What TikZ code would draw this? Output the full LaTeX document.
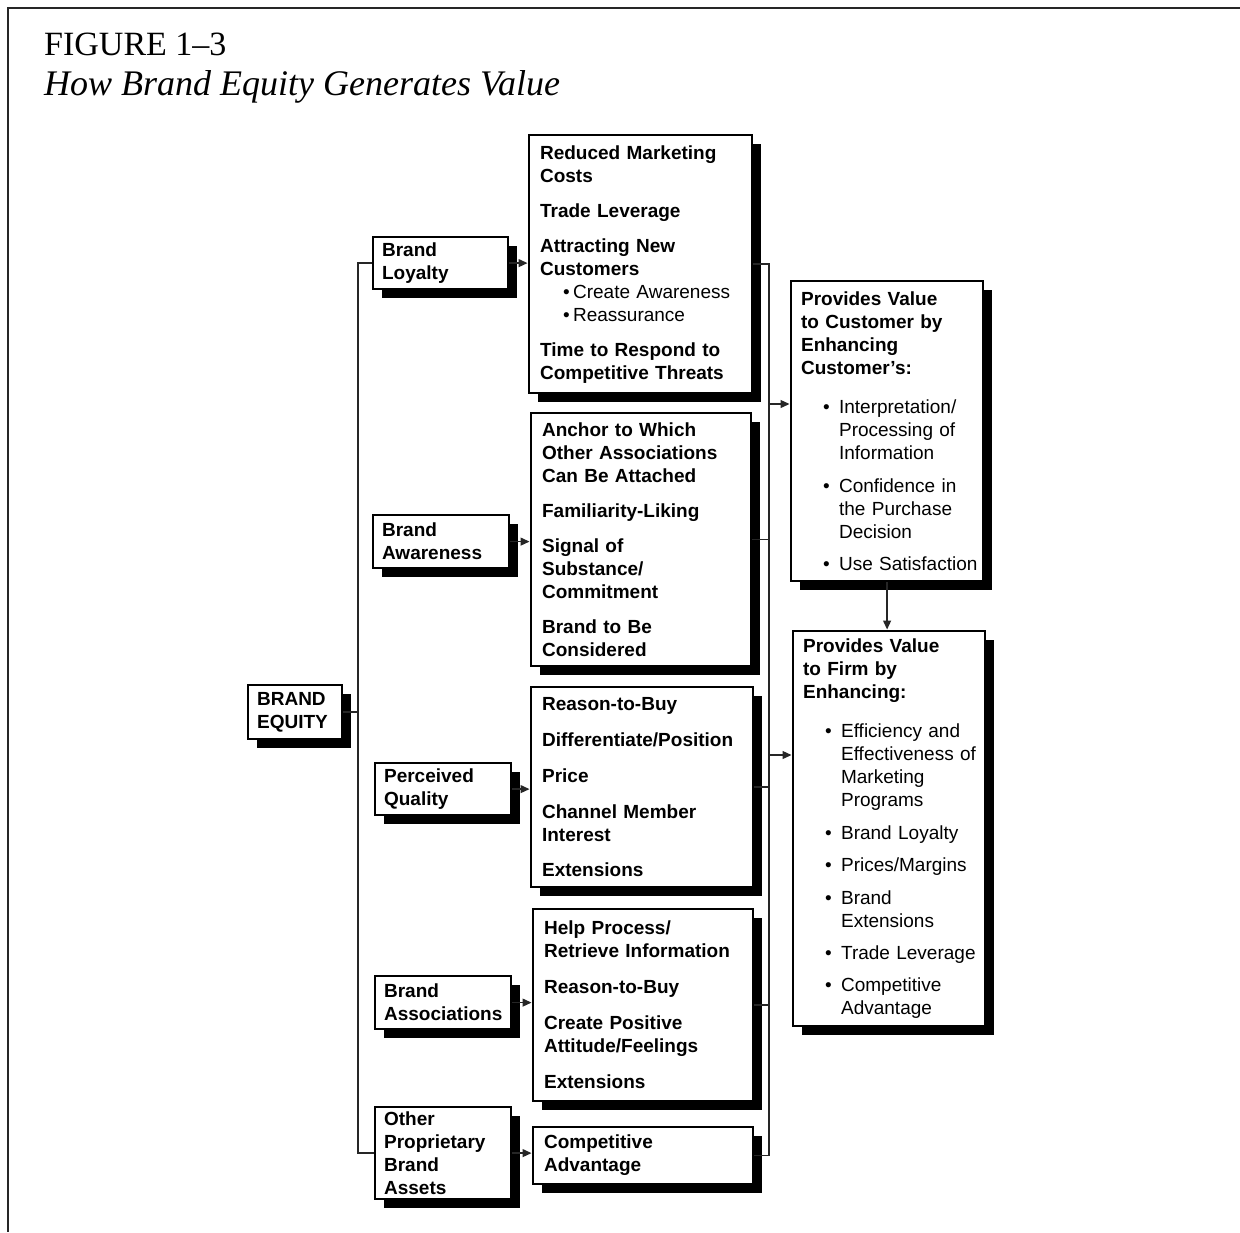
\documentclass[tikz,border=0pt]{standalone}
\usepackage{fontspec}
\setmainfont{Liberation Sans}
\newfontfamily\titlefont{Liberation Serif}
\usetikzlibrary{shadows,arrows.meta}
\newcommand\BulItem[3]{\hspace*{#1}\makebox[#2][l]{\mdseries\textbullet}\mbox{\mdseries #3}}
\newcommand\BulCont[2]{\hspace*{#1}\mbox{\mdseries #2}}
\newcommand\NoHyph{\hyphenpenalty=10000\relax\exhyphenpenalty=10000\relax}
\begin{document}
\begin{tikzpicture}[x=1pt,y=-1pt,
  bx/.style={draw=black, line width=2.2pt, fill=white, anchor=north west, align=left, inner ysep=0pt,
    font=\fontsize{19}{23}\selectfont\bfseries\NoHyph,
    drop shadow={shadow xshift=9pt, shadow yshift=-9pt, fill=black, opacity=1}},
  sbx/.style={bx, inner xsep=9pt},
  lbx/.style={bx, inner xsep=11pt},
  ubx/.style={bx, inner xsep=10pt},
  conn/.style={line width=1.3pt, draw=black!85},
  arr/.style={conn, -{Triangle[length=9pt,width=8pt]}, shorten >=0.5pt}
]
\useasboundingbox (0,0) rectangle (1240,1232);
% outer frame (cropped)
\draw[line width=2.5pt, black!85] (1240,8) -- (8,8) -- (8,1232);

% title
\node[anchor=base west, inner sep=0pt, font=\titlefont\fontsize{34}{40}\selectfont] (fig) at (44,55) {FIGURE 1\textendash 3};
\node[anchor=base west, inner sep=0pt, font=\titlefont\itshape\fontsize{36}{40}\selectfont] (sub) at (44,95) {How Brand Equity Generates Value};

% left column
\node[sbx, text width=76pt, minimum height=54pt] (eq) at (247,684) {BRAND\\EQUITY};
\node[sbx, text width=117pt, minimum height=52pt] (loy) at (372,236) {Brand\\Loyalty};
\node[sbx, text width=118pt, minimum height=53pt] (awa) at (372,514) {Brand\\Awareness};
\node[sbx, text width=118pt, minimum height=52pt] (qua) at (374,762) {Perceived\\Quality};
\node[sbx, text width=118pt, minimum height=53pt] (ass) at (374,975) {Brand\\Associations};
\node[sbx, text width=118pt, minimum height=92pt] (oth) at (374,1106) {Other\\Proprietary\\Brand\\Assets};

% middle column
\node[lbx, text width=201pt, minimum height=258pt] (b1) at (528,134) {Reduced Marketing\\Costs\\[12pt]Trade Leverage\\[12pt]Attracting New\\Customers\\\BulItem{23pt}{10pt}{Create Awareness}\\\BulItem{23pt}{10pt}{Reassurance}\\[12pt]Time to Respond to\\Competitive Threats};
\node[lbx, text width=198pt, minimum height=253pt] (b2) at (530,412) {Anchor to Which\\Other Associations\\Can Be Attached\\[12pt]Familiarity-Liking\\[12pt]Signal of\\Substance/\\Commitment\\[12pt]Brand to Be\\Considered};
\node[lbx, text width=200pt, minimum height=200pt] (b3) at (530,686) {Reason-to-Buy\\[13pt]Differentiate/Position\\[13pt]Price\\[13pt]Channel Member\\Interest\\[12pt]Extensions};
\node[lbx, text width=198pt, minimum height=192pt] (b4) at (532,908) {Help Process/\\Retrieve Information\\[13pt]Reason-to-Buy\\[13pt]Create Positive\\Attitude/Feelings\\[13pt]Extensions};
\node[lbx, text width=198pt, minimum height=57pt] (b5) at (532,1126) {Competitive\\Advantage};

% right column
\node[ubx, text width=172pt, minimum height=300pt] (cust) at (790,280) {Provides Value\\to Customer by\\Enhancing\\Customer's:\\[16pt]\BulItem{22pt}{16pt}{Interpretation/}\\\BulCont{38pt}{Processing of}\\\BulCont{38pt}{Information}\\[10pt]\BulItem{22pt}{16pt}{Confidence in}\\\BulCont{38pt}{the Purchase}\\\BulCont{38pt}{Decision}\\[9pt]\BulItem{22pt}{16pt}{Use Satisfaction}};
\node[ubx, text width=172pt, minimum height=395pt] (firm) at (792,630) {Provides Value\\to Firm by\\Enhancing:\\[16pt]\BulItem{22pt}{16pt}{Efficiency and}\\\BulCont{38pt}{Effectiveness of}\\\BulCont{38pt}{Marketing}\\\BulCont{38pt}{Programs}\\[10pt]\BulItem{22pt}{16pt}{Brand Loyalty}\\[9pt]\BulItem{22pt}{16pt}{Prices/Margins}\\[10pt]\BulItem{22pt}{16pt}{Brand}\\\BulCont{38pt}{Extensions}\\[9pt]\BulItem{22pt}{16pt}{Trade Leverage}\\[9pt]\BulItem{22pt}{16pt}{Competitive}\\\BulCont{38pt}{Advantage}};

% connectors
\coordinate (lx) at (358,0);
\coordinate (rx) at (769,0);
\coordinate (ac) at (769,404);
\coordinate (af) at (769,755);
\draw[conn] (loy.west) -- (loy.west -| lx) -- (oth.west -| lx) -- (oth.west);
\draw[conn] (eq.east) -- (eq.east -| lx);
\draw[arr] (loy.east) -- (loy.east -| b1.west);
\draw[arr] (awa.east) -- (awa.east -| b2.west);
\draw[arr] (qua.east) -- (qua.east -| b3.west);
\draw[arr] (ass.east) -- (ass.east -| b4.west);
\draw[arr] (oth.east) -- (oth.east -| b5.west);
\draw[conn] (b1.east) -- (b1.east -| rx) -- (b5.east -| rx) -- (b5.east);
\draw[conn] (b2.east) -- (b2.east -| rx);
\draw[conn] (b3.east) -- (b3.east -| rx);
\draw[conn] (b4.east) -- (b4.east -| rx);
\draw[arr] (ac) -- (ac -| cust.west);
\draw[arr] (af) -- (af -| firm.west);
\draw[arr] (cust.south) -- (cust.south |- firm.north);
\end{tikzpicture}
\end{document}
